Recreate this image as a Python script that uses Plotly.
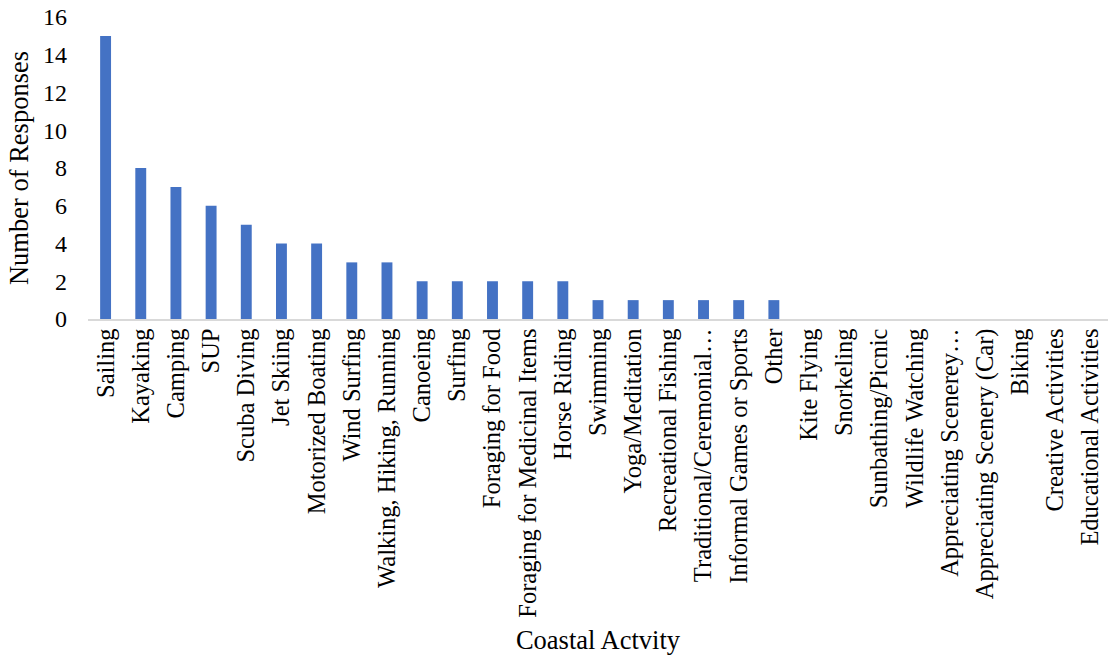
import plotly.graph_objects as go

activities = [
    "Sailing", "Kayaking", "Camping", "SUP", "Scuba Diving", "Jet Skiing",
    "Motorized Boating", "Wind Surfing", "Walking, Hiking, Running", "Canoeing",
    "Surfing", "Foraging for Food", "Foraging for Medicinal Items", "Horse Riding",
    "Swimming", "Yoga/Meditation", "Recreational Fishing", "Traditional/Ceremonial…",
    "Informal Games or Sports", "Other", "Kite Flying", "Snorkeling",
    "Sunbathing/Picnic", "Wildlife Watching", "Appreciating Scenerey…",
    "Appreciating Scenery (Car)", "Biking", "Creative Activities",
    "Educational Activities",
]
responses = [15, 8, 7, 6, 5, 4, 4, 3, 3, 2, 2, 2, 2, 2, 1, 1, 1, 1, 1, 1,
             0, 0, 0, 0, 0, 0, 0, 0, 0]
y_ticks = [0, 2, 4, 6, 8, 10, 12, 14, 16]

FONT = "Liberation Serif, Times New Roman, serif"

fig = go.Figure(
    go.Bar(x=activities, y=responses, marker=dict(color="#4472C4", line=dict(width=0)))
)

fig.update_layout(
    width=1113,
    height=655,
    margin=dict(l=88, r=5, t=17, b=336),
    paper_bgcolor="white",
    plot_bgcolor="white",
    bargap=0.69,
    showlegend=False,
    font=dict(family=FONT, color="black", size=24),
)

fig.update_xaxes(
    automargin=False,
    tickangle=-90,
    tickfont=dict(family=FONT, size=24.5, color="black"),
    ticklabelstandoff=-2,
    showline=True,
    linecolor="#d9d9d9",
    linewidth=1.5,
    showgrid=False,
    ticks="",
    title=dict(text="Coastal Actvity", font=dict(family=FONT, size=26.5, color="black"), standoff=17),
)

fig.update_yaxes(
    automargin=False,
    range=[0, 16],
    tickvals=y_ticks,
    tickfont=dict(family=FONT, size=24, color="black"),
    showline=False,
    showgrid=False,
    zeroline=False,
    ticks="",
    ticklabelstandoff=20,
    title=dict(text="Number of Responses", font=dict(family=FONT, size=26.5, color="black"), standoff=6),
)

fig.write_html("out.html")
